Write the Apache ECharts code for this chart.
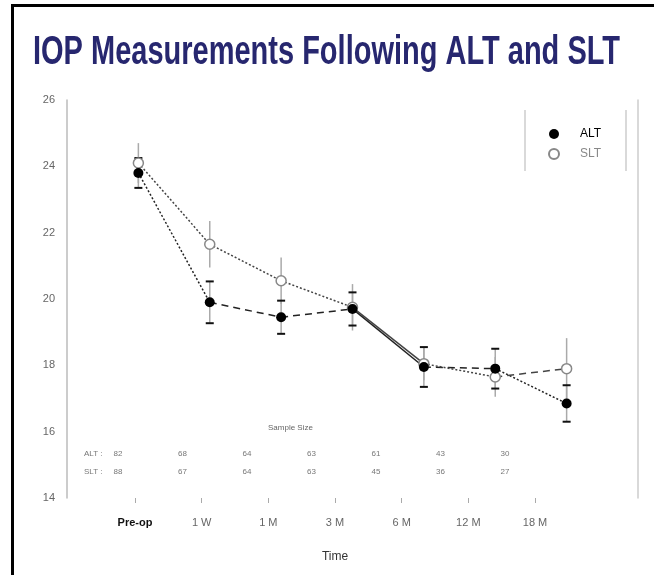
<!DOCTYPE html>
<html>
<head>
<meta charset="utf-8">
<script src="https://cdn.jsdelivr.net/npm/echarts@6/dist/echarts.min.js"></script>
<style>html,body{margin:0;padding:0;background:#fff;}#c{width:654px;height:575px;}</style>
</head>
<body>
<div id="c"></div>
<script>
const categories = ['Pre-op', '1 W', '1 M', '3 M', '6 M', '12 M', '18 M'];
const altMean = [23.8, 19.9, 19.45, 19.7, 17.95, 17.9, 16.85];
const altErr  = [0.45, 0.63, 0.5, 0.5, 0.6, 0.6, 0.55];
const sltMean = [24.1, 21.65, 20.55, 19.75, 18.05, 17.65, 17.9];
const sltErr  = [0.6, 0.7, 0.7, 0.7, 0.5, 0.6, 0.92];
const altN = [82, 68, 64, 63, 61, 43, 30];
const sltN = [88, 67, 64, 63, 45, 36, 27];
const yMin = 14, yMax = 26, yStep = 2;
const altSegStyles = ['dotted', 'dashed', 'dashed', 'solid', 'dashed', 'dotted'];
const sltSegStyles = ['dotted', 'dotted', 'dotted', 'solid', 'dotted', 'dashed'];
const titleText = 'IOP Measurements Following ALT and SLT';

const dashMap = { dotted: [2, 2], dashed: [7, 5], solid: 'solid' };

// condensed title: measure and squeeze horizontally to the reference width
const titleFont = 'bold 40px "Liberation Sans", Arial, sans-serif';
const mctx = document.createElement('canvas').getContext('2d');
mctx.font = titleFont;
const titleScale = 587 / mctx.measureText(titleText).width;

function segSeries(name, means, styles, color) {
  const out = [];
  for (let i = 0; i < means.length - 1; i++) {
    out.push({
      name: name + '-seg' + i,
      type: 'line',
      xAxisIndex: 0, yAxisIndex: 0,
      data: [[i, means[i]], [i + 1, means[i + 1]]],
      symbol: 'none',
      silent: true,
      z: 2,
      lineStyle: { color: color, width: 1.5, type: dashMap[styles[i]] }
    });
  }
  return out;
}

function errSeries(name, means, errs, caps) {
  return {
    name: name + '-err',
    type: 'custom',
    xAxisIndex: 0, yAxisIndex: 0,
    silent: true,
    z: 3,
    data: means.map((m, i) => [i, m - errs[i], m + errs[i]]),
    renderItem: function (params, api) {
      const x = api.value(0);
      const lo = api.coord([x, api.value(1)]);
      const hi = api.coord([x, api.value(2)]);
      const children = [{
        type: 'line',
        shape: { x1: lo[0], y1: lo[1], x2: hi[0], y2: hi[1] },
        style: { stroke: '#aaa', lineWidth: 1.5 }
      }];
      if (caps) {
        [lo, hi].forEach(p => children.push({
          type: 'line',
          shape: { x1: p[0] - 4, y1: p[1], x2: p[0] + 4, y2: p[1] },
          style: { stroke: '#111', lineWidth: 2 }
        }));
      }
      return { type: 'group', children: children };
    }
  };
}

const chart = echarts.init(document.getElementById('c'));
chart.setOption({
  animation: false,
  backgroundColor: '#fff',
  legend: {
    orient: 'vertical',
    left: 543, top: 123,
    itemWidth: 10, itemHeight: 10, itemGap: 8,
    textStyle: { fontFamily: 'Liberation Sans', fontSize: 12, padding: [0, 0, 0, 16] },
    data: [
      { name: 'ALT', icon: 'circle', textStyle: { color: '#000' } },
      { name: 'SLT', icon: 'circle', textStyle: { color: '#888' } }
    ]
  },
  grid: [
    { left: 67, right: 16, top: 100, bottom: 77 },
    { left: 135, right: 119, top: 100, bottom: 77 },
    { left: 118, right: 149, top: 438, height: 1 }
  ],
  xAxis: [
    { gridIndex: 0, type: 'value', min: -1, max: 7, show: false },
    {
      gridIndex: 1, type: 'category', boundaryGap: false, data: categories,
      axisLine: { show: false },
      axisTick: { show: true, length: 5, lineStyle: { color: '#aaa' } },
      axisLabel: {
        margin: 19, fontFamily: 'Liberation Sans', fontSize: 11, color: '#666',
        formatter: function (v, i) { return i === 0 ? '{b|' + v + '}' : v; },
        rich: { b: { fontFamily: 'Liberation Sans', fontSize: 11, fontWeight: 'bold', color: '#111' } }
      },
      name: 'Time', nameLocation: 'middle', nameGap: 53,
      nameTextStyle: { fontFamily: 'Liberation Sans', fontSize: 12, color: '#333' }
    },
    {
      gridIndex: 2, type: 'category', boundaryGap: false,
      data: altN.map((a, i) => a + '\n' + sltN[i]),
      axisLine: { show: false }, axisTick: { show: false },
      axisLabel: { margin: 6, fontFamily: 'Liberation Sans', fontSize: 8, lineHeight: 18, color: '#777' }
    }
  ],
  yAxis: [
    {
      gridIndex: 0, type: 'value', min: yMin, max: yMax, interval: yStep,
      axisLine: { show: true, onZero: false, lineStyle: { color: '#bbb', width: 1.5 } },
      axisTick: { show: false },
      splitLine: { show: false },
      axisLabel: { margin: 12, fontFamily: 'Liberation Sans', fontSize: 11, color: '#666' }
    },
    {
      gridIndex: 0, type: 'value', min: yMin, max: yMax, interval: yStep, position: 'right',
      axisLine: { show: true, onZero: false, lineStyle: { color: '#ccc', width: 1.5 } },
      axisTick: { show: false }, axisLabel: { show: false }, splitLine: { show: false }
    },
    { gridIndex: 1, type: 'value', min: yMin, max: yMax, show: false },
    { gridIndex: 2, type: 'value', show: false }
  ],
  graphic: [
    { type: 'rect', shape: { x: 12.5, y: 5.5, width: 700, height: 700 }, style: { fill: 'none', stroke: '#000', lineWidth: 3 }, silent: true },
    {
      type: 'text', x: 33, y: 53, scaleX: titleScale, scaleY: 1,
      style: { text: titleText, font: titleFont, fill: '#27276f', verticalAlign: 'middle', align: 'left' }
    },
    { type: 'line', shape: { x1: 525, y1: 110, x2: 525, y2: 171 }, style: { stroke: '#ccc', lineWidth: 1.5 } },
    { type: 'line', shape: { x1: 626, y1: 110, x2: 626, y2: 171 }, style: { stroke: '#ccc', lineWidth: 1.5 } },
    { type: 'text', left: 268, top: 424, style: { text: 'Sample Size', fontFamily: 'Liberation Sans', fontSize: 8, fill: '#666' } },
    { type: 'text', left: 84, top: 449, style: { text: 'ALT :\n\nSLT :', fontFamily: 'Liberation Sans', fontSize: 8, lineHeight: 9, fill: '#777' } }
  ],
  series: [
    ...segSeries('ALT', altMean, altSegStyles, '#222'),
    ...segSeries('SLT', sltMean, sltSegStyles, '#444'),
    errSeries('SLT', sltMean, sltErr, false),
    errSeries('ALT', altMean, altErr, true),
    {
      name: 'SLT', type: 'scatter', xAxisIndex: 0, yAxisIndex: 0, z: 4,
      symbol: 'circle', symbolSize: 10,
      itemStyle: { color: '#fff', borderColor: '#888', borderWidth: 1.5, opacity: 1 },
      data: sltMean.map((v, i) => [i, v])
    },
    {
      name: 'ALT', type: 'scatter', xAxisIndex: 0, yAxisIndex: 0, z: 5,
      symbol: 'circle', symbolSize: 10,
      itemStyle: { color: '#000', opacity: 1 },
      data: altMean.map((v, i) => [i, v])
    }
  ]
});
</script>
</body>
</html>
